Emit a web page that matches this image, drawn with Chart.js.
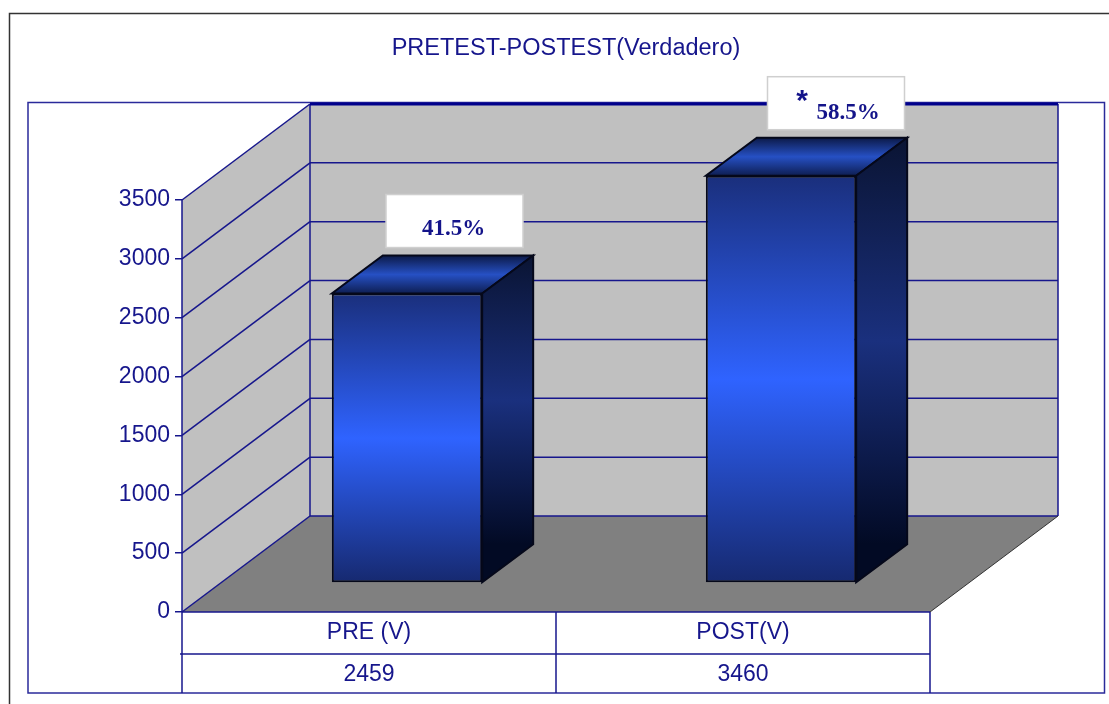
<!DOCTYPE html>
<html>
<head>
<meta charset="utf-8">
<title>PRETEST-POSTEST(Verdadero)</title>
<script src="https://cdn.jsdelivr.net/npm/chart.js@4"></script>
<style>
  html, body { margin: 0; padding: 0; background: #fff; }
  /* the original is a slightly soft scan */
  canvas { display: block; filter: blur(0.4px); }
</style>
</head>
<body>
<canvas id="chart" width="1109" height="704"></canvas>
<script>
/* global Chart */

const titleText = "PRETEST-POSTEST(Verdadero)";
const categories = ["PRE (V)", "POST(V)"];
const values = [2459, 3460];
const percentLabels = ["41.5%", "58.5%"];
const markers = ["", "*"];
const yTicks = [0, 500, 1000, 1500, 2000, 2500, 3000, 3500];

const NAVY = "#16168c";
const FONT = "'Liberation Sans', Arial, sans-serif";
const SERIF = "'Liberation Serif', 'Times New Roman', serif";

// the fake 3d box: how far the back wall sits from the axis plane
const WALL_DX = 128, WALL_DY = -96;
// bars stand part way into the box
const BAR_DX = 38, BAR_DY = -29;
const SIDE_DX = 51, SIDE_DY = -38;
// white label boxes, shift from the bar centre
const LABEL_SHIFT = [85.5, 93];

function line(ctx, x1, y1, x2, y2) {
  ctx.beginPath();
  ctx.moveTo(x1, y1);
  ctx.lineTo(x2, y2);
  ctx.stroke();
}

function poly(ctx, pts, fill) {
  ctx.beginPath();
  pts.forEach((p, i) => (i ? ctx.lineTo(p[0], p[1]) : ctx.moveTo(p[0], p[1])));
  ctx.closePath();
  ctx.fillStyle = fill;
  ctx.fill();
}

function vGrad(ctx, top, bottom, stops) {
  const g = ctx.createLinearGradient(0, top, 0, bottom);
  stops.forEach((s) => g.addColorStop(s[0], s[1]));
  return g;
}

const frontStops = [[0, "#1a2f7c"], [0.5, "#2f63ff"], [1, "#16296f"]];
const sideStops = [[0, "#0a1433"], [0.5, "#1a307e"], [1, "#020a24"]];
const topStops = [[0, "#0c1a48"], [0.5, "#2650c4"], [1, "#0e1e52"]];

function frontFill(c) {
  const chart = c.chart;
  if (!chart.chartArea || c.parsed === undefined) return "#1a2f7c";
  const y = chart.scales.y;
  return vGrad(chart.ctx, y.getPixelForValue(c.parsed.y), y.getPixelForValue(0), frontStops);
}

const box3d = {
  id: "box3d",
  afterLayout(chart) {
    // title is centred a bit right of the plot in the original
    chart.titleBlock.left += 10;
    chart.titleBlock.right += 10;
  },
  beforeDraw(chart) {
    const ctx = chart.ctx;
    const { left, right, top, bottom } = chart.chartArea;
    const y = chart.scales.y;
    const x = chart.scales.x;

    ctx.save();
    ctx.fillStyle = "#fff";
    ctx.fillRect(0, 0, chart.width, chart.height);

    // outer frame, open on the right and at the bottom
    ctx.strokeStyle = "#333";
    ctx.lineWidth = 1.5;
    ctx.beginPath();
    ctx.moveTo(9.5, 704);
    ctx.lineTo(9.5, 13.5);
    ctx.lineTo(1109, 13.5);
    ctx.stroke();

    // plot frame
    ctx.strokeStyle = "#2a2a9a";
    ctx.lineWidth = 1.5;
    ctx.strokeRect(28, 102.5, 1076.5, 590.5);

    // walls and floor
    const bx = left + WALL_DX, by = bottom + WALL_DY, ty = top + WALL_DY;
    poly(ctx, [[left, bottom], [left, top], [bx, ty], [bx, by]], "#c0c0c0");
    poly(ctx, [[bx, ty], [right + WALL_DX, ty], [right + WALL_DX, by], [bx, by]], "#c0c0c0");
    poly(ctx, [[left, bottom], [right, bottom], [right + WALL_DX, by], [bx, by]], "#808080");

    ctx.strokeStyle = NAVY;
    ctx.lineWidth = 1.5;
    yTicks.forEach((v) => {
      const p = y.getPixelForValue(v);
      line(ctx, left, p, bx, p + WALL_DY);
      line(ctx, bx, p + WALL_DY, right + WALL_DX, p + WALL_DY);
    });
    line(ctx, bx, ty, bx, by);
    line(ctx, right + WALL_DX, ty, right + WALL_DX, by);
    ctx.lineWidth = 3;
    ctx.strokeStyle = "#00008b";
    line(ctx, bx, ty, right + WALL_DX, ty);

    // floor edge on the right is dark
    ctx.lineWidth = 1;
    ctx.strokeStyle = "#333";
    line(ctx, right, bottom, right + WALL_DX, by);

    // axis line runs on through the table, table rows under the floor
    ctx.lineWidth = 1.5;
    ctx.strokeStyle = NAVY;
    line(ctx, left, top, left, 693);
    line(ctx, left, bottom, right, bottom);
    line(ctx, left - 2, 654, right, 654);
    line(ctx, right, bottom, right, 693);
    const split = (x.getPixelForValue(0) + x.getPixelForValue(1)) / 2;
    line(ctx, split, bottom, split, 693);
    ctx.restore();
  },
  beforeDatasetsDraw(chart) {
    chart.ctx.save();
    chart.ctx.translate(BAR_DX, BAR_DY);
  },
  afterDatasetsDraw(chart) {
    const ctx = chart.ctx;
    chart.getDatasetMeta(0).data.forEach((bar) => {
      const l = bar.x - bar.width / 2, r = bar.x + bar.width / 2;
      const t = bar.y, b = bar.base;

      const topPts = [[l, t], [r, t], [r + SIDE_DX, t + SIDE_DY], [l + SIDE_DX, t + SIDE_DY]];
      const sidePts = [[r, t], [r + SIDE_DX, t + SIDE_DY], [r + SIDE_DX, b + SIDE_DY], [r, b]];
      poly(ctx, topPts, vGrad(ctx, t + SIDE_DY, t, topStops));
      ctx.strokeStyle = "#05081a";
      ctx.lineWidth = 2;
      ctx.stroke();
      poly(ctx, sidePts, vGrad(ctx, t + SIDE_DY, b + SIDE_DY, sideStops));
      ctx.stroke();
    });
    ctx.restore();

    // white percent labels
    chart.getDatasetMeta(0).data.forEach((bar, i) => {
      const cx = bar.x + LABEL_SHIFT[i];
      const boxB = bar.y - 75;
      ctx.save();
      ctx.fillStyle = "#fff";
      ctx.strokeStyle = "#cfcfcf";
      ctx.lineWidth = 1.5;
      ctx.fillRect(cx - 68.5, boxB - 53, 137, 53);
      ctx.strokeRect(cx - 68.5, boxB - 53, 137, 53);
      ctx.fillStyle = "#14148a";
      ctx.textAlign = "center";
      ctx.textBaseline = "middle";
      ctx.font = "bold 23px " + SERIF;
      if (markers[i]) {
        ctx.fillText(percentLabels[i], cx + 12, boxB - 17);
        ctx.font = "bold 30px " + FONT;
        ctx.fillText(markers[i], cx - 34, boxB - 28);
      } else {
        ctx.fillText(percentLabels[i], cx - 1, boxB - 18);
      }
      ctx.restore();
    });
  },
};

new Chart(document.getElementById("chart"), {
  type: "bar",
  data: {
    // second tick line is the value row of the data table
    labels: categories.map((c, i) => [c, String(values[i])]),
    datasets: [{
      data: values,
      backgroundColor: frontFill,
      borderColor: "#05081a",
      borderWidth: 2,
      borderSkipped: false,
      barPercentage: 1,
      categoryPercentage: 0.402,
      clip: false,
    }],
  },
  options: {
    responsive: false,
    animation: false,
    layout: { padding: { left: 0, right: 179, top: 0, bottom: 0 } },
    plugins: {
      legend: { display: false },
      tooltip: { enabled: false },
      title: {
        display: true,
        text: titleText,
        fullSize: false,
        color: NAVY,
        font: { family: FONT, size: 23.5, weight: "normal", lineHeight: 1.2 },
        padding: { top: 34, bottom: 137.8 },
      },
    },
    scales: {
      x: {
        grid: { display: false },
        border: { display: false },
        ticks: {
          color: NAVY,
          font: { family: FONT, size: 23, lineHeight: 1.83 },
          padding: -8,
          maxRotation: 0,
          autoSkip: false,
        },
        afterFit(scale) { scale.height = 92; },
      },
      y: {
        min: 0,
        max: 3500,
        afterBuildTicks(scale) { scale.ticks = yTicks.map((v) => ({ value: v })); },
        grid: { drawOnChartArea: false, drawTicks: true, tickLength: 7, color: NAVY, lineWidth: 1.5 },
        border: { display: false },
        ticks: {
          color: NAVY,
          font: { family: FONT, size: 23 },
          padding: 5,
          callback: (v) => String(v),
        },
        afterFit(scale) { scale.width = 182; },
      },
    },
  },
  plugins: [box3d],
});
</script>
</body>
</html>
